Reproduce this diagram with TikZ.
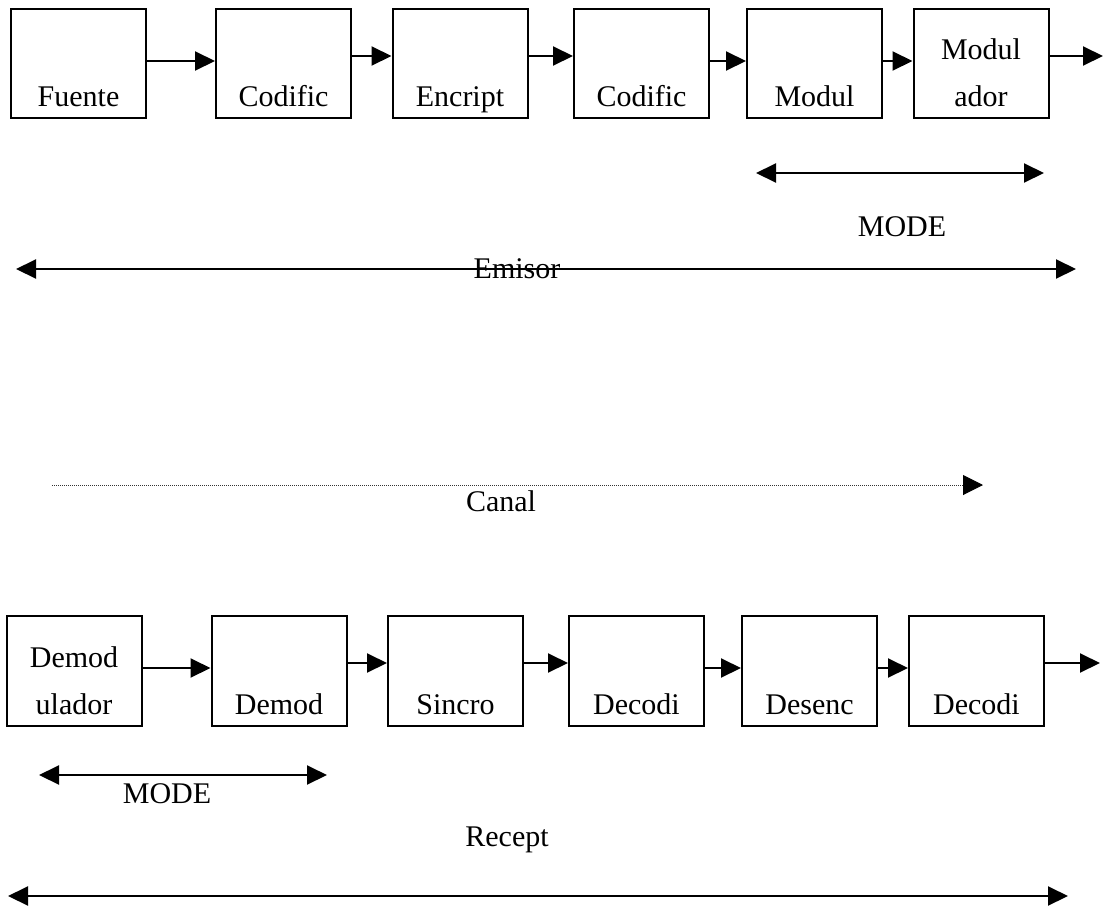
\documentclass[tikz,border=0pt]{standalone}
\usepackage{fontspec}
\setmainfont{Liberation Serif}
\usetikzlibrary{arrows.meta}
\begin{document}
\begin{tikzpicture}[x=1pt,y=-1pt,
  blk/.style={draw,line width=2pt,minimum width=135pt,minimum height=109pt,inner sep=0pt},
  lbl/.style={anchor=base,inner sep=0pt,font=\fontsize{30}{36}\selectfont},
  flow/.style={line width=2pt,-{Triangle[length=20pt,width=19pt]}},
  span/.style={line width=2pt,{Triangle[length=20pt,width=19pt]}-{Triangle[length=20pt,width=19pt]}},
  chan/.style={line width=1pt,draw=black!80,dash pattern=on 1pt off 1pt,-{Triangle[length=20pt,width=20pt,black]}}]
\useasboundingbox (0,0) rectangle (1104,908);

% transmitter chain
\node[blk] (t1) at (78.5,63.5) {};
\node[blk] (t2) at (283.5,63.5) {};
\node[blk] (t3) at (460,63.5) {};
\node[blk] (t4) at (641.5,63.5) {};
\node[blk] (t5) at (814.5,63.5) {};
\node[blk] (t6) at (981,63.5) {};
\node[lbl] (t1l) at (78.5,106) {Fuente};
\node[lbl] (t2l) at (283.5,106) {Codific};
\node[lbl] (t3l) at (460,106) {Encript};
\node[lbl] (t4l) at (641.5,106) {Codific};
\node[lbl] (t5l) at (814.5,106) {Modul};
\node[lbl] (t6a) at (981,59) {Modul};
\node[lbl] (t6b) at (981,106) {ador};
\coordinate (tout) at (1103,56);

\draw[flow] ([yshift=2.5pt]t1.east) -- ([yshift=2.5pt]t2.west);
\draw[flow] ([yshift=7.5pt]t2.east) -- ([yshift=7.5pt]t3.west);
\draw[flow] ([yshift=7.5pt]t3.east) -- ([yshift=7.5pt]t4.west);
\draw[flow] ([yshift=2.5pt]t4.east) -- ([yshift=2.5pt]t5.west);
\draw[flow] ([yshift=2.5pt]t5.east) -- ([yshift=2.5pt]t6.west);
\draw[flow] (t6.east |- tout) -- (tout);

% transmitter spans
\coordinate (mtL) at (756,173);
\coordinate (mtR) at (1044,173);
\draw[span] (mtL) -- (mtR);
\node[lbl] (mtl) at (902,236) {MODE};
\coordinate (emL) at (16,269);
\coordinate (emR) at (1076,269);
\node[lbl] (eml) at (517,278) {Emisor};
\draw[span] (emL) -- (emR);

% channel
\coordinate (chL) at (52,485);
\coordinate (chR) at (983,485);
\draw[chan] (chL) -- (chR);
\node[lbl] (chl) at (501,511) {Canal};

% receiver chain
\node[blk,minimum height=110pt] (r1) at (74,671) {};
\node[blk,minimum height=110pt] (r2) at (279,671) {};
\node[blk,minimum height=110pt] (r3) at (455.5,671) {};
\node[blk,minimum height=110pt] (r4) at (636.5,671) {};
\node[blk,minimum height=110pt] (r5) at (809.5,671) {};
\node[blk,minimum height=110pt] (r6) at (976.5,671) {};
\node[lbl] (r1a) at (74,667) {Demod};
\node[lbl] (r1b) at (74,714) {ulador};
\node[lbl] (r2l) at (279,714) {Demod};
\node[lbl] (r3l) at (455.5,714) {Sincro};
\node[lbl] (r4l) at (636.5,714) {Decodi};
\node[lbl] (r5l) at (809.5,714) {Desenc};
\node[lbl] (r6l) at (976.5,714) {Decodi};
\coordinate (rout) at (1100,663);

\draw[flow] ([yshift=3pt]r1.east) -- ([yshift=3pt]r2.west);
\draw[flow] ([yshift=8pt]r2.east) -- ([yshift=8pt]r3.west);
\draw[flow] ([yshift=8pt]r3.east) -- ([yshift=8pt]r4.west);
\draw[flow] ([yshift=3pt]r4.east) -- ([yshift=3pt]r5.west);
\draw[flow] ([yshift=3pt]r5.east) -- ([yshift=3pt]r6.west);
\draw[flow] (r6.east |- rout) -- (rout);

% receiver spans
\coordinate (mrL) at (39,775);
\coordinate (mrR) at (327,775);
\draw[span] (mrL) -- (mrR);
\node[lbl] (mrl) at (167,803) {MODE};
\coordinate (reL) at (8,896);
\coordinate (reR) at (1068,896);
\draw[span] (reL) -- (reR);
\node[lbl] (rel) at (507,846) {Recept};
\end{tikzpicture}
\end{document}
